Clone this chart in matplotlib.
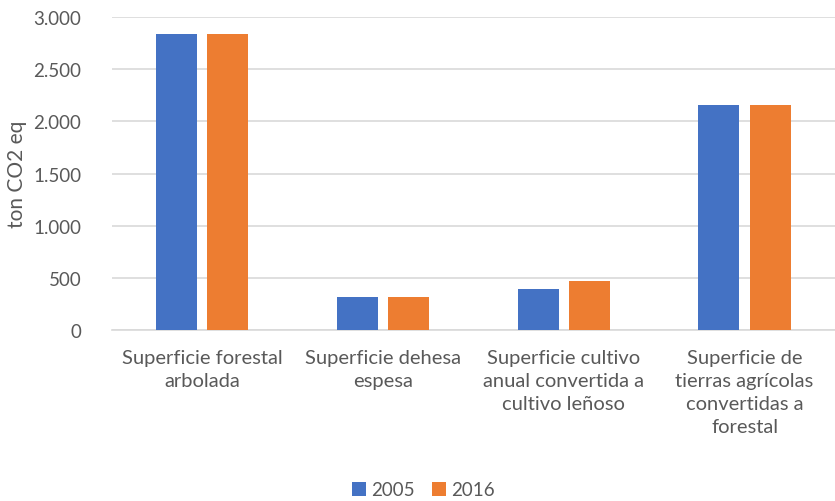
import matplotlib.pyplot as plt
import numpy as np
from matplotlib.ticker import FuncFormatter

categories = ["Superficie forestal\narbolada",
              "Superficie dehesa\nespesa",
              "Superficie cultivo\nanual convertida a\ncultivo leñoso",
              "Superficie de\ntierras agrícolas\nconvertidas a\nforestal"]
years = ["2005", "2016"]
vals_2005 = [2840, 317, 391, 2158]
vals_2016 = [2840, 317, 471, 2158]
y_ticks = [0, 500, 1000, 1500, 2000, 2500, 3000]

plt.rcParams['font.family'] = ['Lato', 'DejaVu Sans']
grey = "#595959"

fig = plt.figure(figsize=(8.35, 5.02), dpi=100)
ax = fig.add_axes([0.134, 0.341, 0.866, 0.6225])

x = np.arange(len(categories))
w = 0.227
off = 0.142
ax.bar(x - off, vals_2005, w, color="#4472C4", label=years[0], zorder=3)
ax.bar(x + off, vals_2016, w, color="#ED7D31", label=years[1], zorder=3)

ax.set_xlim(-0.5, len(categories) - 0.5)
ax.set_ylim(0, 3000)
ax.set_yticks(y_ticks)
ax.yaxis.set_major_formatter(FuncFormatter(lambda v, p: "{:,.0f}".format(v).replace(",", ".")))
ax.grid(axis="y", color="#d9d9d9", linewidth=1.2, zorder=0)
for s in ["top", "right", "left"]:
    ax.spines[s].set_visible(False)
ax.spines["bottom"].set_color("#d9d9d9")
ax.spines["bottom"].set_linewidth(1.2)
ax.tick_params(axis="y", length=0, labelsize=13.5, colors=grey, pad=22)
ax.tick_params(axis="x", length=0, labelsize=14.5, colors=grey, pad=14)
ax.set_xticks(x)
ax.set_xticklabels(categories, linespacing=1.42, va="top")
ax.set_ylabel("ton CO2 eq", fontsize=15, color=grey)
ax.yaxis.set_label_coords(-0.118, 0.5)

fig.legend(loc="center", bbox_to_anchor=(0.507, 0.022), ncol=2, frameon=False,
           fontsize=13.5, labelcolor=grey, handlelength=0.75, handleheight=0.75,
           handletextpad=0.3, columnspacing=0.9)

fig.savefig("out.png", dpi=100)
